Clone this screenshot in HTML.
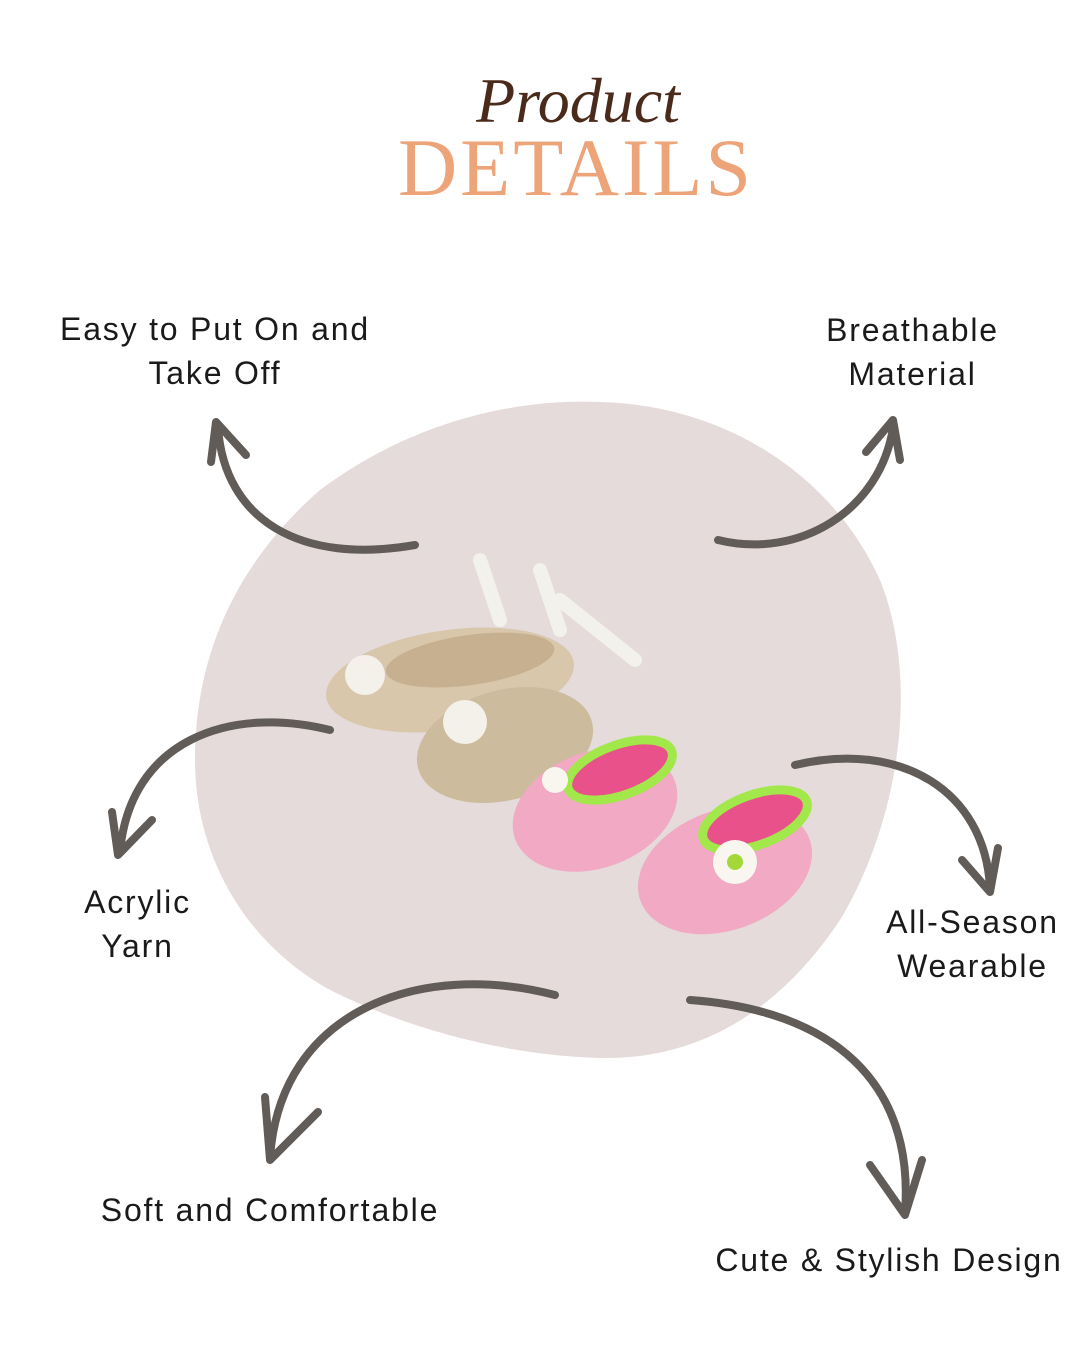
<!DOCTYPE html>
<html><head><meta charset="utf-8"><style>
body{margin:0;width:1080px;height:1350px;background:#fff;position:relative;overflow:hidden;font-family:"Liberation Sans",sans-serif}
.t{position:absolute;font-size:32px;color:#1a1a1a;letter-spacing:1.8px;text-align:center;line-height:44px}
</style></head><body>
<svg width="1080" height="1350" style="position:absolute;left:0;top:0">
<path d="M600,402 C720,405 830,470 880,580 C920,680 900,820 840,920 C780,1010 700,1060 600,1058 C520,1056 420,1035 330,990 C240,940 195,850 195,760 C195,650 240,560 320,490 C400,430 500,398 600,402 Z" fill="#e5dbda"/>
<g fill="none" stroke="#615c58" stroke-width="8" stroke-linecap="round" stroke-linejoin="round">
<path d="M415,545 C300,565 225,520 218,428"/><path d="M211,462 L216,422 L246,455"/>
<path d="M718,540 C800,560 880,510 893,428"/><path d="M866,452 L893,420 L900,460"/>
<path d="M330,730 C230,705 130,740 120,852"/><path d="M112,812 L118,855 L152,820"/>
<path d="M795,765 C900,740 985,790 990,888"/><path d="M962,860 L990,892 L998,848"/>
<path d="M555,995 C420,960 280,1010 270,1158"/><path d="M265,1097 L270,1160 L318,1112"/>
<path d="M690,1000 C830,1010 915,1080 905,1213"/><path d="M870,1165 L905,1215 L922,1160"/>
</g>
<g>
<path d="M480,560 L500,620 M540,570 L560,630 M560,600 L635,660" stroke="#f3f1ec" stroke-width="14" fill="none" stroke-linecap="round"/>
<ellipse cx="450" cy="680" rx="125" ry="50" fill="#d8c7ab" transform="rotate(-8 450 680)"/>
<ellipse cx="505" cy="745" rx="90" ry="55" fill="#cdbb9d" transform="rotate(-15 505 745)"/>
<ellipse cx="470" cy="660" rx="85" ry="25" fill="#c6b08f" transform="rotate(-8 470 660)"/>
<circle cx="365" cy="675" r="20" fill="#f4f1ea"/><circle cx="465" cy="722" r="22" fill="#f4f1ea"/>
</g>
<g>
<ellipse cx="595" cy="810" rx="85" ry="58" fill="#f1a9c4" transform="rotate(-20 595 810)"/>
<ellipse cx="620" cy="770" rx="55" ry="25" fill="#e8518a" stroke="#a3e84b" stroke-width="9" transform="rotate(-20 620 770)"/>
<ellipse cx="725" cy="870" rx="90" ry="60" fill="#f1a9c4" transform="rotate(-20 725 870)"/>
<ellipse cx="755" cy="820" rx="55" ry="25" fill="#e8518a" stroke="#a3e84b" stroke-width="9" transform="rotate(-20 755 820)"/>
<circle cx="735" cy="862" r="22" fill="#f8f6ee"/><circle cx="735" cy="862" r="8" fill="#a3d83b"/>
<circle cx="555" cy="780" r="13" fill="#f8f6ee"/>
</g>
<text x="578" y="122" text-anchor="middle" font-family="Liberation Serif,serif" font-style="italic" font-size="64" fill="#4a2a1a">Product</text>
<text x="576" y="195" text-anchor="middle" font-family="Liberation Serif,serif" font-size="82" fill="#eda479" letter-spacing="3">DETAILS</text>
</svg>
<div class="t" style="left:30px;top:307px;width:370px">Easy to Put On and<br>Take Off</div>
<div class="t" style="left:780px;top:308px;width:265px">Breathable<br>Material</div>
<div class="t" style="left:30px;top:880px;width:215px">Acrylic<br>Yarn</div>
<div class="t" style="left:865px;top:900px;width:215px">All-Season<br>Wearable</div>
<div class="t" style="left:60px;top:1188px;width:420px">Soft and Comfortable</div>
<div class="t" style="left:700px;top:1238px;width:378px;white-space:nowrap">Cute &amp; Stylish Design</div>
</body></html>
